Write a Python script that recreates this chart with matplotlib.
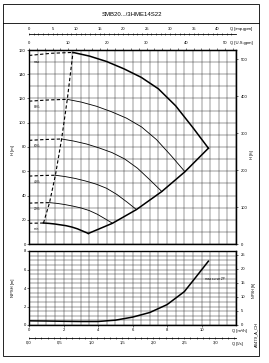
import matplotlib
matplotlib.use("Agg")
import matplotlib.pyplot as plt
from matplotlib.patches import Rectangle
from matplotlib.lines import Line2D
from matplotlib.ticker import MultipleLocator, FuncFormatter

plt.rcParams['font.family'] = ['Liberation Sans', 'DejaVu Sans']

# --- dane (Q w m3/h, H w m) ---
tytul = "SMB20.../3HME14S22"

q_max = [2.55, 3.5, 4.5, 5.5, 6.5, 7.5, 8.5, 9.5, 10.4]
h_max = [158, 155, 150.5, 144.5, 137.5, 128, 114, 96, 79]
q_80 = [2.22, 3.04, 3.91, 4.78, 5.65, 6.52, 7.39, 8.26, 9.04]
h_80 = [119.3, 117.0, 113.6, 109.1, 103.8, 96.6, 86.1, 72.5, 59.6]
q_60 = [1.89, 2.59, 3.33, 4.07, 4.81, 5.55, 6.29, 7.03, 7.70]
h_60 = [86.6, 84.9, 82.5, 79.2, 75.4, 70.1, 62.5, 52.6, 43.3]
q_40 = [1.53, 2.10, 2.70, 3.29, 3.89, 4.49, 5.09, 5.69, 6.23]
h_40 = [56.7, 55.6, 54.0, 51.9, 49.4, 46.0, 40.9, 34.5, 28.4]
q_20 = [1.19, 1.63, 2.09, 2.56, 3.02, 3.49, 3.95, 4.42, 4.84]
h_20 = [34.1, 33.5, 32.5, 31.2, 29.7, 27.6, 24.6, 20.7, 17.1]
q_min = [0.84, 1.16, 1.49, 1.82, 2.15, 2.48, 2.81, 3.14, 3.44]
h_min = [17.3, 17.0, 16.5, 15.8, 15.1, 14.0, 12.5, 10.5, 8.7]

# przerywane poczatki krzywych (od Q=0 do punktu przejscia)
q_max_d = [0, 1.3, 2.55]
h_max_d = [155.5, 157.3, 158]
q_80_d = [0, 1.13, 2.22]
h_80_d = [117.8, 118.8, 119.3]
q_60_d = [0, 0.96, 1.89]
h_60_d = [85.5, 86.2, 86.6]
q_40_d = [0, 0.78, 1.53]
h_40_d = [56.0, 56.5, 56.7]
q_20_d = [0, 0.6, 1.19]
h_20_d = [33.7, 34.0, 34.1]
q_min_d = [0, 0.43, 0.84]
h_min_d = [17.1, 17.2, 17.3]

etykiety = ["max", "80%", "60%", "40%", "20%", "min"]

# linia konca krzywych
q_kon = [3.44, 4.84, 6.23, 7.70, 9.04, 10.4]
h_kon = [8.7, 17.1, 28.4, 43.3, 59.6, 79]

# linia przerywana przez punkty przejscia
q_prz = [0.84, 1.19, 1.53, 1.89, 2.22, 2.55]
h_prz = [17.3, 34.1, 56.7, 86.6, 119.3, 158]

# NPSH
q_npsh = [0, 1, 2, 3, 4, 5, 6, 7, 8, 9, 9.6, 10.4]
npsh = [0.45, 0.43, 0.4, 0.38, 0.38, 0.52, 0.85, 1.35, 2.2, 3.6, 5.0, 6.9]

W, H = 269, 363
fig = plt.figure(figsize=(W / 100, H / 100), dpi=100)


def fx(px):
    return px / W


def fy(py):
    return 1 - py / H


def tekst(px, py, s, size=3, **kw):
    fig.text(fx(px), fy(py), s, fontsize=size, **kw)


# ramka i tytul
fig.add_artist(Rectangle((fx(3), fy(356)), fx(259) - fx(3), fy(4) - fy(356),
                         transform=fig.transFigure, fill=False, lw=0.6, color='k'))
fig.add_artist(Line2D([fx(3), fx(259)], [fy(23), fy(23)], transform=fig.transFigure, lw=0.6, color='k'))
tekst(132, 14, tytul, size=4.3, ha='center', va='center')

L, R = 29, 236
ax = fig.add_axes([fx(L), fy(244), fx(R) - fx(L), fy(50) - fy(244)])
ax2 = fig.add_axes([fx(L), fy(325), fx(R) - fx(L), fy(251) - fy(325)])

siatka = dict(color='#333333', lw=0.35)
for a in (ax, ax2):
    a.set_xlim(0, 12)
    a.xaxis.set_major_locator(MultipleLocator(2))
    a.xaxis.set_minor_locator(MultipleLocator(0.5))
    a.grid(which='both', **siatka)
    a.tick_params(which='both', labelsize=3, length=1.2, width=0.4, pad=1)
    for s in a.spines.values():
        s.set_linewidth(1.0)
    a.set_axisbelow(True)

ax.set_ylim(0, 160)
ax.yaxis.set_major_locator(MultipleLocator(20))
ax.yaxis.set_minor_locator(MultipleLocator(10))
ax.tick_params(axis='x', which='both', length=0, labelbottom=False)
ax.tick_params(axis='y', which='minor', length=0)

ax2.set_ylim(0, 8)
ax2.yaxis.set_major_locator(MultipleLocator(2))
ax2.yaxis.set_minor_locator(MultipleLocator(0.5))
ax2.tick_params(axis='y', which='minor', length=0)
ax2.tick_params(axis='x', which='minor', length=0)
ax2.set_xticks([0, 2, 4, 6, 8, 10])
ax2.xaxis.set_major_formatter(FuncFormatter(lambda v, p: "%d" % v))

# krzywe
grube = dict(color='k', lw=1.1)
cienkie = dict(color='k', lw=0.6)
przer = dict(color='k', lw=0.8, ls=(0, (3, 2)))

ax.plot(q_max_d, h_max_d, **przer)
ax.plot(q_80_d, h_80_d, **przer)
ax.plot(q_60_d, h_60_d, **przer)
ax.plot(q_40_d, h_40_d, **przer)
ax.plot(q_20_d, h_20_d, **przer)
ax.plot(q_min_d, h_min_d, **przer)
ax.plot(q_prz, h_prz, **przer)

ax.plot(q_max, h_max, **grube)
ax.plot(q_80, h_80, **cienkie)
ax.plot(q_60, h_60, **cienkie)
ax.plot(q_40, h_40, **cienkie)
ax.plot(q_20, h_20, **cienkie)
ax.plot(q_min, h_min, **grube)
ax.plot(q_kon, h_kon, **grube)

for et, h0 in zip(etykiety, [h_max_d[0], h_80_d[0], h_60_d[0], h_40_d[0], h_20_d[0], h_min_d[0]]):
    ax.text(0.3, h0 - 5, et, fontsize=2.3, va='center', ha='left')

ax2.plot(q_npsh, npsh, **grube)
ax2.text(10.2, 5.0, "max curve 2P", fontsize=2.3, va='center', ha='left')

# osie dodatkowe
m_ft = 3.28084
ax_ft = ax.secondary_yaxis('right', functions=(lambda h: h * m_ft, lambda f: f / m_ft))
ax_ft.yaxis.set_major_locator(MultipleLocator(100))
ax_ft.tick_params(labelsize=3, length=1.2, width=0.4, pad=2.5)

ax2_ft = ax2.secondary_yaxis('right', functions=(lambda h: h * m_ft, lambda f: f / m_ft))
ax2_ft.yaxis.set_major_locator(MultipleLocator(5))
ax2_ft.tick_params(labelsize=3, length=1.2, width=0.4, pad=2.0)

us = ax.secondary_xaxis('top', functions=(lambda q: q / 0.227125, lambda g: g * 0.227125))
us.set_xticks([0, 10, 20, 30, 40, 50])
us.xaxis.set_minor_locator(MultipleLocator(2))
us.tick_params(which='both', labelsize=3, length=1.2, width=0.4, pad=2.5)

imp = ax.secondary_xaxis(1 + 16 / 194, functions=(lambda q: q / 0.272765, lambda g: g * 0.272765))
imp.set_xticks([0, 5, 10, 15, 20, 25, 30, 35, 40])
imp.xaxis.set_minor_locator(MultipleLocator(1))
imp.tick_params(which='both', labelsize=3, length=1.2, width=0.4, pad=1.5, direction='inout')
imp.spines['top'].set_linewidth(0.6)

ls = ax2.secondary_xaxis(-13 / 74, functions=(lambda q: q / 3.6, lambda l: l * 3.6))
ls.set_xticks([0, 0.5, 1, 1.5, 2, 2.5, 3])
ls.xaxis.set_minor_locator(MultipleLocator(0.1))
ls.xaxis.set_major_formatter(FuncFormatter(lambda v, p: ("%.1f" % v).replace('.', ',')))
ls.tick_params(which='both', labelsize=3, length=1.2, width=0.4, pad=1.5, direction='inout')
ls.spines['bottom'].set_linewidth(0.6)

# opisy osi
tekst(13, 150, "H [m]", rotation=90, ha='center', va='center')
tekst(13, 288, "NPSH [m]", rotation=90, ha='center', va='center')
tekst(252, 155, "H [ft]", rotation=90, ha='center', va='center')
tekst(254, 290, "NPSH [ft]", rotation=90, ha='center', va='center', size=2.6)
tekst(256, 334, "A0479_A_CH", rotation=90, ha='center', va='center')
tekst(230, 29, "Q [imp.gpm]", ha='left', va='center')
tekst(230, 43, "Q [U.S.gpm]", ha='left', va='center')
tekst(232, 331, "Q [m³/h]", ha='left', va='center')
tekst(232, 344, "Q [l/s]", ha='left', va='center')

fig.savefig("out.png", dpi=100)
